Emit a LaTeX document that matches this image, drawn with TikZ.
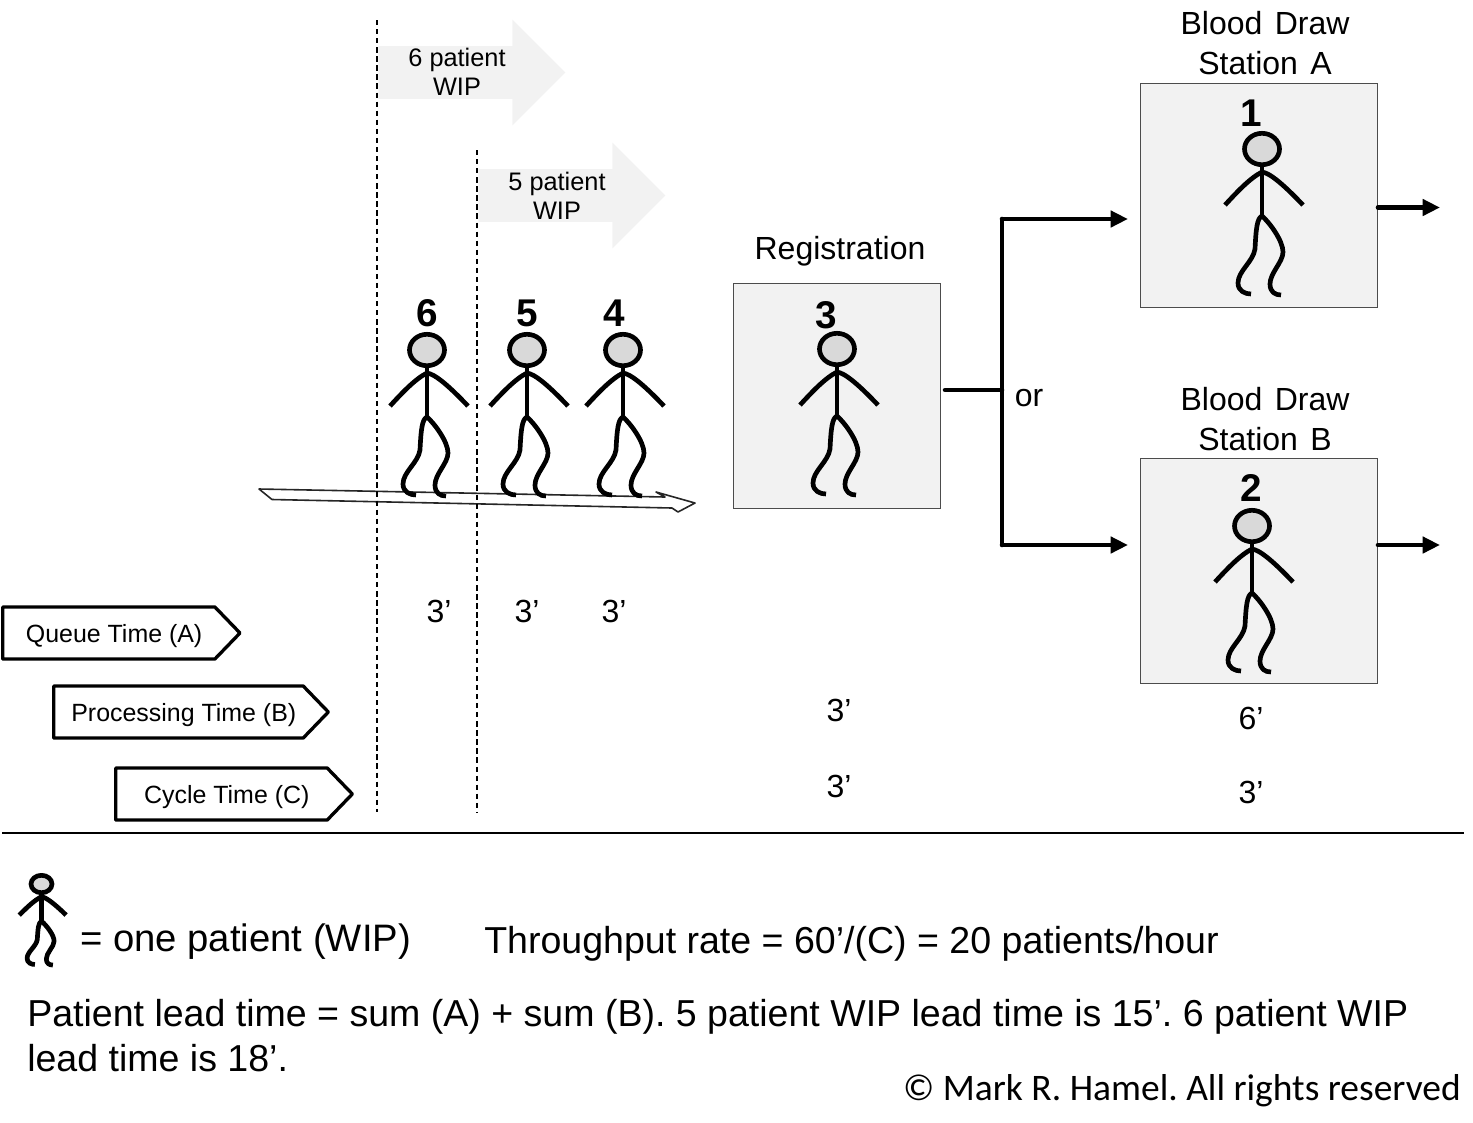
\documentclass[tikz,border=0pt]{standalone}
\usepackage{fontspec}
\setmainfont{Liberation Sans}
\newfontfamily\rightsfont{Carlito}
\usetikzlibrary{arrows.meta,shapes.symbols,shapes.arrows}
\frenchspacing

\definecolor{BoxGrey}{HTML}{F2F2F2}
\definecolor{HeadGrey}{HTML}{D9D9D9}

\tikzset{
    stickline/.style={line width=3.5pt,line cap=butt,line join=round},
    patient/.pic={
        \draw[stickline,fill=HeadGrey] (0,0) ellipse [x radius=17.5,y radius=15.7];
        \draw[stickline] (0,16) -- (0,67);
        \draw[stickline] (-37,56) .. controls (-25,43) and (-12,29) .. (0,23) .. controls (8,24) and (22,36) .. (41,56);
        \draw[stickline] (0,67) .. controls (-5,69) and (-6,80) .. (-7,100) .. controls (-9,113) and (-24,122) .. (-24,134) .. controls (-24,142) and (-17,145) .. (-11,145);
        \draw[stickline] (0,67) .. controls (8,74) and (21,92) .. (21,103) .. controls (21,113) and (8,124) .. (8,135) .. controls (8,143) and (13,146) .. (19,146);
    },
    stationbox/.style={draw=black!70,fill=BoxGrey,line width=0.75pt,inner sep=0pt},
    titlelabel/.style={anchor=base,inner sep=0pt,font=\fontsize{24}{29}\selectfont},
    timelabel/.style={anchor=base,inner sep=0pt,font=\fontsize{24}{29}\selectfont},
    ranklabel/.style={anchor=base,inner sep=0pt,font=\fontsize{29}{34}\selectfont\bfseries},
    wiplabel/.style={align=center,inner sep=0pt,font=\fontsize{19}{22}\selectfont},
    wiparrow/.style={fill=BoxGrey,draw=none,single arrow,inner xsep=0pt,inner ysep=19.5pt,anchor=west,
        minimum width=78.75pt,minimum height=140.25pt,single arrow head extend=20pt},
    timetag/.style={signal,signal to=east,signal pointer angle=92,draw=black,line width=2.5pt,line join=round,
        minimum height=39pt,inner sep=0pt,anchor=west,text height=16pt,text depth=2.5pt,
        execute at begin node={\hspace*{8pt}},font=\fontsize{18.7}{22}\selectfont},
    footlabel/.style={anchor=base west,inner sep=0pt,font=\fontsize{28.15}{34}\selectfont},
    flowline/.style={line width=3.4pt,line cap=round},
    flowarrow/.style={flowline,-{Triangle[length=13pt,width=12pt]}},
    cutline/.style={line width=1.2pt,dash pattern=on 4pt off 2.8pt},
}

\begin{document}
\begin{tikzpicture}[x=0.75pt,y=-0.75pt]
    \useasboundingbox (0,0) rectangle (1473,1122);

    % waiting line
    \filldraw[fill=white,draw=black!85,line width=1.2pt,line join=round]
        (259,489) -- (665,497) -- (656,492) -- (695,503) -- (678,512) -- (672,508) -- (272,499.5) -- cycle;

    \coordinate (cutAtop) at (377,20);
    \coordinate (cutAend) at (377,812);
    \coordinate (cutBtop) at (477,150);
    \coordinate (cutBend) at (477,812);

    % WIP arrows
    \node[wiparrow] (wipSix) at (378,72.5) {};
    \node[wiplabel] (wipSixText) at (457,72) {6 patient\\WIP};
    \node[wiparrow] (wipFive) at (478,195.5) {};
    \node[wiplabel] (wipFiveText) at (557,196) {5 patient\\WIP};

    \draw[cutline] (cutAtop) -- (cutAend);
    \draw[cutline] (cutBtop) -- (cutBend);

    % stations
    \node[stationbox,minimum width=155.5pt,minimum height=169pt] (regBox) at (836.8,396) {};
    \node[stationbox,minimum width=178pt,minimum height=168.5pt] (stationA) at (1258.8,195.5) {};
    \node[stationbox,minimum width=178pt,minimum height=169pt] (stationB) at (1258.8,571) {};

    \node[titlelabel] (regTitle) at (840,259) {Registration};
    \node[titlelabel] (stationAtop) at (1265,34) {Blood\hspace{.11em} Draw};
    \node[titlelabel] (stationAbot) at (1265,74) {Station\hspace{.11em} A};
    \node[titlelabel] (stationBtop) at (1265,410) {Blood\hspace{.11em} Draw};
    \node[titlelabel] (stationBbot) at (1265,450) {Station\hspace{.11em} B};

    % patients
    \pic (patientSix) at (427,350) {patient};
    \pic (patientFive) at (527,350) {patient};
    \pic (patientFour) at (623,350) {patient};
    \pic (patientThree) at (837,349) {patient};
    \pic (patientOne) at (1262,149) {patient};
    \pic (patientTwo) at (1252,526) {patient};

    \node[ranklabel] (rankSix) at (427,326) {6};
    \node[ranklabel] (rankFive) at (527,326) {5};
    \node[ranklabel] (rankFour) at (614,326) {4};
    \node[ranklabel] (rankThree) at (826.5,328) {3};
    \node[ranklabel] (rankOne) at (1251,126) {1};
    \node[ranklabel] (rankTwo) at (1251.5,501) {2};

    % routing
    \coordinate (split) at (1002,390);
    \coordinate (splitA) at (1002,219);
    \coordinate (splitB) at (1002,545);
    \coordinate (toA) at (1128,219);
    \coordinate (toB) at (1128,545);
    \coordinate (regOut) at (945,390);
    \coordinate (outA) at (1440,207.5);
    \coordinate (outB) at (1440,545);
    \draw[flowline] (regOut) -- (split);
    \draw[flowline] (splitA) -- (splitB);
    \draw[flowarrow] (splitA) -- (toA);
    \draw[flowarrow] (splitB) -- (toB);
    \draw[flowarrow] (stationA.east |- outA) -- (outA);
    \draw[flowarrow] (stationB.east |- outB) -- (outB);
    \node[timelabel] (orLabel) at (1029,406) {or};

    % time tags
    \node[timetag,minimum width=178pt] (tagQueue) at (1,633) {Queue Time (A)};
    \node[timetag,minimum width=206pt] (tagProcess) at (52,712) {Processing Time (B)};
    \node[timetag,minimum width=177.5pt] (tagCycle) at (114,794) {Cycle Time (C)};

    \node[timelabel] (queueSix) at (439,622) {3’};
    \node[timelabel] (queueFive) at (527,622) {3’};
    \node[timelabel] (queueFour) at (614,622) {3’};
    \node[timelabel] (procReg) at (839,721) {3’};
    \node[timelabel] (procDraw) at (1251,729) {6’};
    \node[timelabel] (cycleReg) at (839,797) {3’};
    \node[timelabel] (cycleDraw) at (1251,803) {3’};

    \coordinate (ruleLeft) at (2,833);
    \coordinate (ruleRight) at (1464,833);
    \draw[line width=1.5pt] (ruleLeft) -- (ruleRight);

    % legend and notes
    \pic[xscale=0.6,yscale=0.555] (patientKey) at (41.5,884) {patient};
    \node[footlabel,font=\fontsize{28.7}{34}\selectfont] (keyText) at (80,951) {= one patient (WIP)};
    \node[footlabel] (rateText) at (484,953) {Throughput rate = 60’/(C) = 20 patients/hour};
    \node[footlabel] (leadOne) at (27,1026) {Patient lead time = sum (A) + sum (B). 5 patient WIP lead time is 15’. 6 patient WIP};
    \node[footlabel] (leadTwo) at (27,1071) {lead time is 18’.};
    \node[anchor=base east,inner sep=0pt,font=\rightsfont\fontsize{28.1}{33}\selectfont] (rights) at (1461,1100.5) {© Mark R. Hamel. All rights reserved};
\end{tikzpicture}
\end{document}
